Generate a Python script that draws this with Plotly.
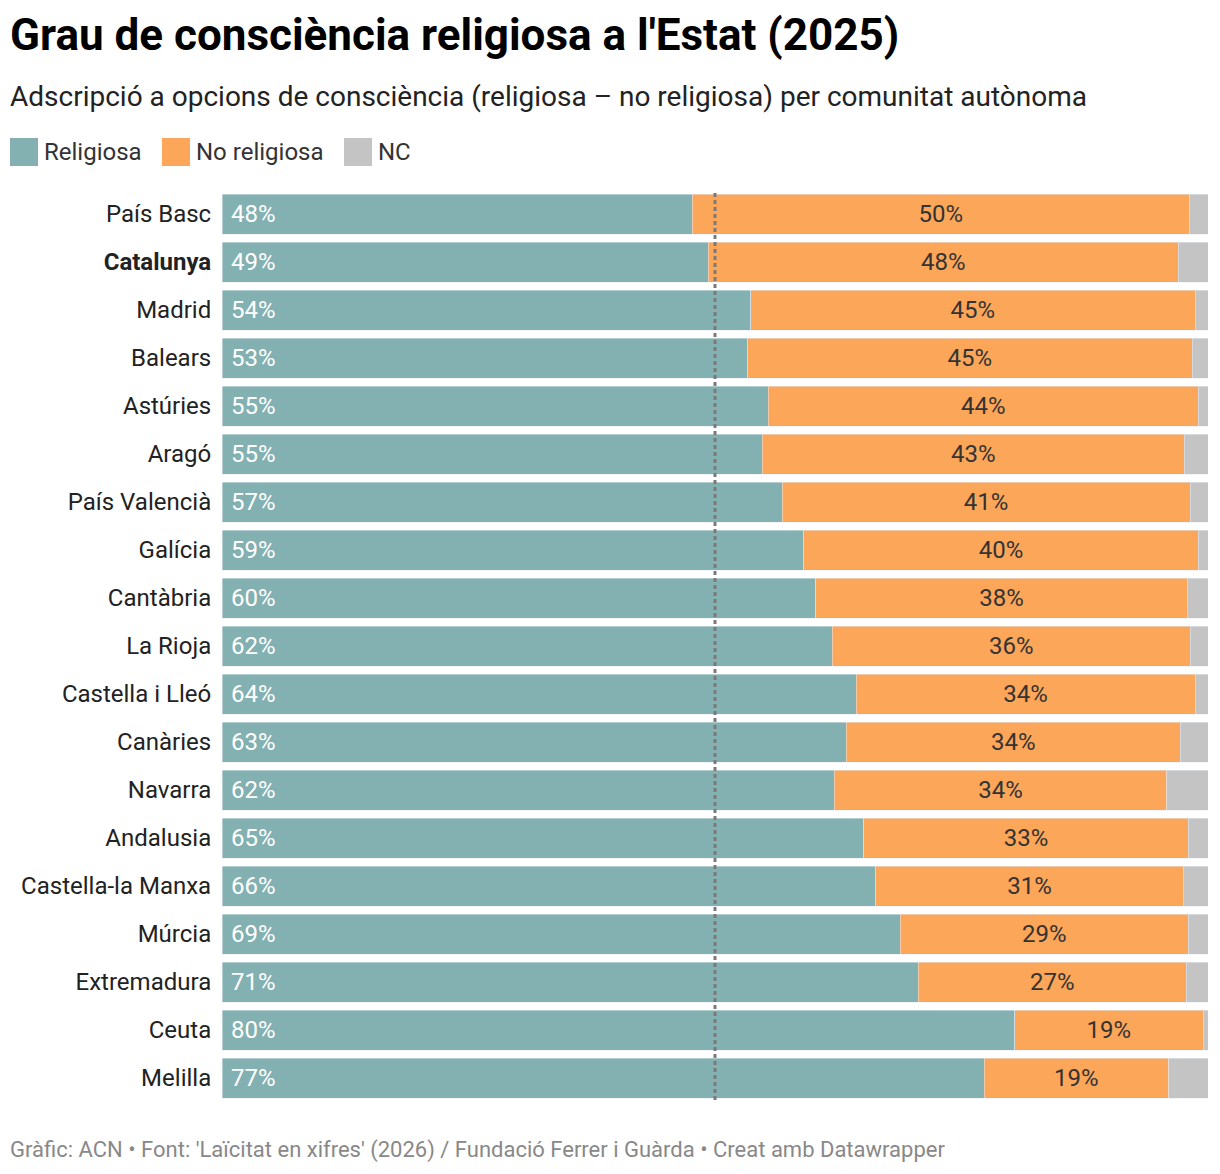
import plotly.graph_objects as go

regions = ["País Basc", "Catalunya", "Madrid", "Balears", "Astúries", "Aragó",
           "País Valencià", "Galícia", "Cantàbria", "La Rioja", "Castella i Lleó",
           "Canàries", "Navarra", "Andalusia", "Castella-la Manxa", "Múrcia",
           "Extremadura", "Ceuta", "Melilla"]
religiosa = [47.7, 49.3, 53.6, 53.3, 55.4, 54.8, 56.8, 59.0, 60.2, 61.9, 64.3,
             63.3, 62.1, 65.1, 66.3, 68.8, 70.6, 80.4, 77.3]
no_religiosa = [50.4, 47.7, 45.1, 45.1, 43.6, 42.8, 41.4, 40.0, 37.7, 36.3, 34.4,
                33.9, 33.7, 32.9, 31.2, 29.2, 27.2, 19.1, 18.7]
nc = [1.9, 3.0, 1.3, 1.6, 1.0, 2.4, 1.8, 1.0, 2.1, 1.8, 1.3,
      2.8, 4.2, 2.0, 2.5, 2.0, 2.2, 0.5, 4.0]
highlight = "Catalunya"

C_REL = "#83b1b2"
C_NR = "#fca65a"
C_NC = "#c4c4c4"
FONT = "Roboto"

W, H = 1220, 1174
ML, MR, MT, MB = 222, 12, 190, 72
PW = W - ML - MR
PH = H - MT - MB


def px(x):
    return (x - ML) / PW


def py(y):
    return (H - MB - y) / PH


ylabels = [f"<b>{r}</b>" if r == highlight else r for r in regions]

fig = go.Figure()
fig.add_trace(go.Bar(y=ylabels, x=religiosa, orientation="h", marker_color=C_REL,
                     name="Religiosa", hoverinfo="skip"))
fig.add_trace(go.Bar(y=ylabels, x=no_religiosa, orientation="h", marker_color=C_NR,
                     name="No religiosa", texttemplate="%{x:.0f}%",
                     textposition="inside", insidetextanchor="middle",
                     textfont=dict(family=FONT, size=24, color="#333333"),
                     hoverinfo="skip"))
fig.add_trace(go.Bar(y=ylabels, x=nc, orientation="h", marker_color=C_NC,
                     name="NC", hoverinfo="skip"))

annotations = []
for lab, v in zip(ylabels, religiosa):
    annotations.append(dict(x=0, y=lab, xref="x", yref="y", text=f"{v:.0f}%",
                            xanchor="left", yanchor="middle", xshift=7, showarrow=False,
                            font=dict(family=FONT, size=24, color="white")))

# title, subtitle, footer
annotations.append(dict(x=px(8), y=py(35), xref="paper", yref="paper",
                        text="<b>Grau de consciència religiosa a l'Estat (2025)</b>",
                        xanchor="left", yanchor="middle", showarrow=False,
                        font=dict(family=FONT, size=44, color="#000000")))
annotations.append(dict(x=px(8), y=py(97), xref="paper", yref="paper",
                        text="Adscripció a opcions de consciència (religiosa – no religiosa) per comunitat autònoma",
                        xanchor="left", yanchor="middle", showarrow=False,
                        font=dict(family=FONT, size=28, color="#222222")))
annotations.append(dict(x=px(8), y=py(1150), xref="paper", yref="paper",
                        text="Gràfic: ACN • Font: 'Laïcitat en xifres' (2026) / Fundació Ferrer i Guàrda • Creat amb Datawrapper",
                        xanchor="left", yanchor="middle", showarrow=False,
                        font=dict(family=FONT, size=22, color="#888888")))

shapes = []
legend_items = [("Religiosa", C_REL, 10), ("No religiosa", C_NR, 162), ("NC", C_NC, 344)]
for name, col, x0 in legend_items:
    shapes.append(dict(type="rect", xref="paper", yref="paper",
                       x0=px(x0), x1=px(x0 + 28), y0=py(166), y1=py(138),
                       fillcolor=col, line=dict(width=0)))
    annotations.append(dict(x=px(x0 + 32), y=py(152), xref="paper", yref="paper",
                            text=name, xanchor="left", yanchor="middle", showarrow=False,
                            font=dict(family=FONT, size=24, color="#333333")))

# 50% reference line
shapes.append(dict(type="line", xref="x", yref="paper", x0=50, x1=50,
                   y0=py(1100), y1=py(192), layer="above",
                   line=dict(color="#7a7a7a", width=3, dash="4px,3px")))

fig.update_layout(
    barmode="stack", bargap=1 / 6, width=W, height=H,
    margin=dict(l=ML, r=MR, t=MT, b=MB, pad=0),
    paper_bgcolor="white", plot_bgcolor="white",
    showlegend=False, annotations=annotations, shapes=shapes,
    font=dict(family=FONT),
    xaxis=dict(range=[0, 100], visible=False, fixedrange=True),
    yaxis=dict(autorange="reversed", showgrid=False, zeroline=False, showline=False,
               ticks="outside", ticklen=5, tickcolor="rgba(0,0,0,0)",
               tickfont=dict(family=FONT, size=24, color="#222222"), fixedrange=True),
    uniformtext=dict(mode="show", minsize=10),
)

fig.write_html("out.html", config={"displayModeBar": False})
